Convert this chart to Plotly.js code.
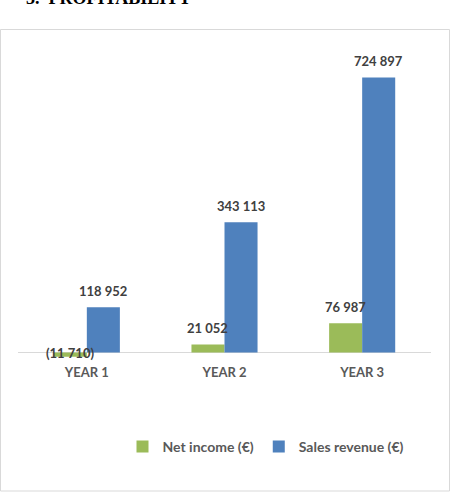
<!DOCTYPE html>
<html>
<head>
<meta charset="utf-8">
<script src="https://cdn.plot.ly/plotly-3.0.1.min.js"></script>
<style>html,body{margin:0;padding:0;background:#fff;}#chart{width:453px;height:498px;}</style>
</head>
<body>
<div id="chart"></div>
<script>
const categories = ['YEAR 1', 'YEAR 2', 'YEAR 3'];
const netIncome = [-11710, 21052, 76987];
const salesRevenue = [118952, 343113, 724897];
const seriesNames = ['Net income (€)', 'Sales revenue (€)'];
const chartTitle = '3.  PROFITABILITY';

const W = 453, H = 498;
const mL = 18, mR = 22, mT = 49, mB = 138;
const yRange = [-20000, 800000];
const plotW = W - mL - mR, plotH = H - mT - mB;
const px2paperX = p => (p - mL) / plotW;
const px2paperY = p => (H - mB - p) / plotH;

function fmt(v) {
  const s = Math.abs(v).toString().replace(/\B(?=(\d{3})+(?!\d))/g, ' ');
  return v < 0 ? '(' + s + ')' : s;
}

const green = '#9BBB59', blue = '#4F81BD';
const labelFont = {family: 'Lato, Calibri, sans-serif', size: 13, color: '#404040', weight: 'bold'};

const traces = [
  {type: 'bar', name: seriesNames[0], x: categories, y: netIncome, marker: {color: green}, hoverinfo: 'none'},
  {type: 'bar', name: seriesNames[1], x: categories, y: salesRevenue, marker: {color: blue}, hoverinfo: 'none'}
];

const bargap = 0.52;
const barW = (1 - bargap) / 2;
const annotations = [];
[netIncome, salesRevenue].forEach((vals, s) => {
  vals.forEach((v, i) => {
    annotations.push({
      xref: 'x', yref: 'y', x: i + (s === 0 ? -barW / 2 : barW / 2), y: v,
      text: '<b>' + fmt(v) + '</b>', showarrow: false,
      yanchor: 'middle', xanchor: 'center',
      yshift: v < 0 ? 4 : 16.5,
      font: labelFont
    });
  });
});
annotations.push({
  xref: 'paper', yref: 'paper', x: px2paperX(24), y: px2paperY(5),
  xanchor: 'left', yanchor: 'bottom', yshift: -5,
  text: '<b>' + chartTitle + '</b>', showarrow: false,
  font: {family: 'Liberation Serif, Times New Roman, serif', size: 18, color: '#000'}
});

const layout = {
  width: W, height: H,
  margin: {l: mL, r: mR, t: mT, b: mB, pad: 0},
  paper_bgcolor: '#fff', plot_bgcolor: 'rgba(0,0,0,0)',
  barmode: 'group', bargap: bargap, bargroupgap: 0,
  showlegend: true,
  legend: {
    orientation: 'h', x: px2paperX(266), xanchor: 'center',
    y: px2paperY(447), yanchor: 'middle',
    font: {family: 'Lato, Calibri, sans-serif', size: 14, color: '#595959', weight: 'bold'},
    itemclick: false, traceorder: 'normal', itemwidth: 30
  },
  xaxis: {
    type: 'category', showgrid: false, showline: false, zeroline: false, ticks: '',
    tickfont: {family: 'Lato, Calibri, sans-serif', size: 13, color: '#595959', weight: 'bold'},
    ticklabelstandoff: 3,
    fixedrange: true
  },
  yaxis: {
    range: yRange, showgrid: false, showticklabels: false, ticks: '', showline: false,
    zeroline: true, zerolinecolor: '#D9D9D9', zerolinewidth: 1, fixedrange: true
  },
  annotations: annotations,
  shapes: [{
    type: 'rect', xref: 'paper', yref: 'paper', layer: 'below',
    x0: px2paperX(0.5), x1: px2paperX(449.5), y0: px2paperY(491), y1: px2paperY(29.5),
    line: {color: '#D9D9D9', width: 1}, fillcolor: 'rgba(0,0,0,0)'
  }]
};

Plotly.newPlot('chart', traces, layout, {staticPlot: true, displayModeBar: false});
</script>
</body>
</html>
